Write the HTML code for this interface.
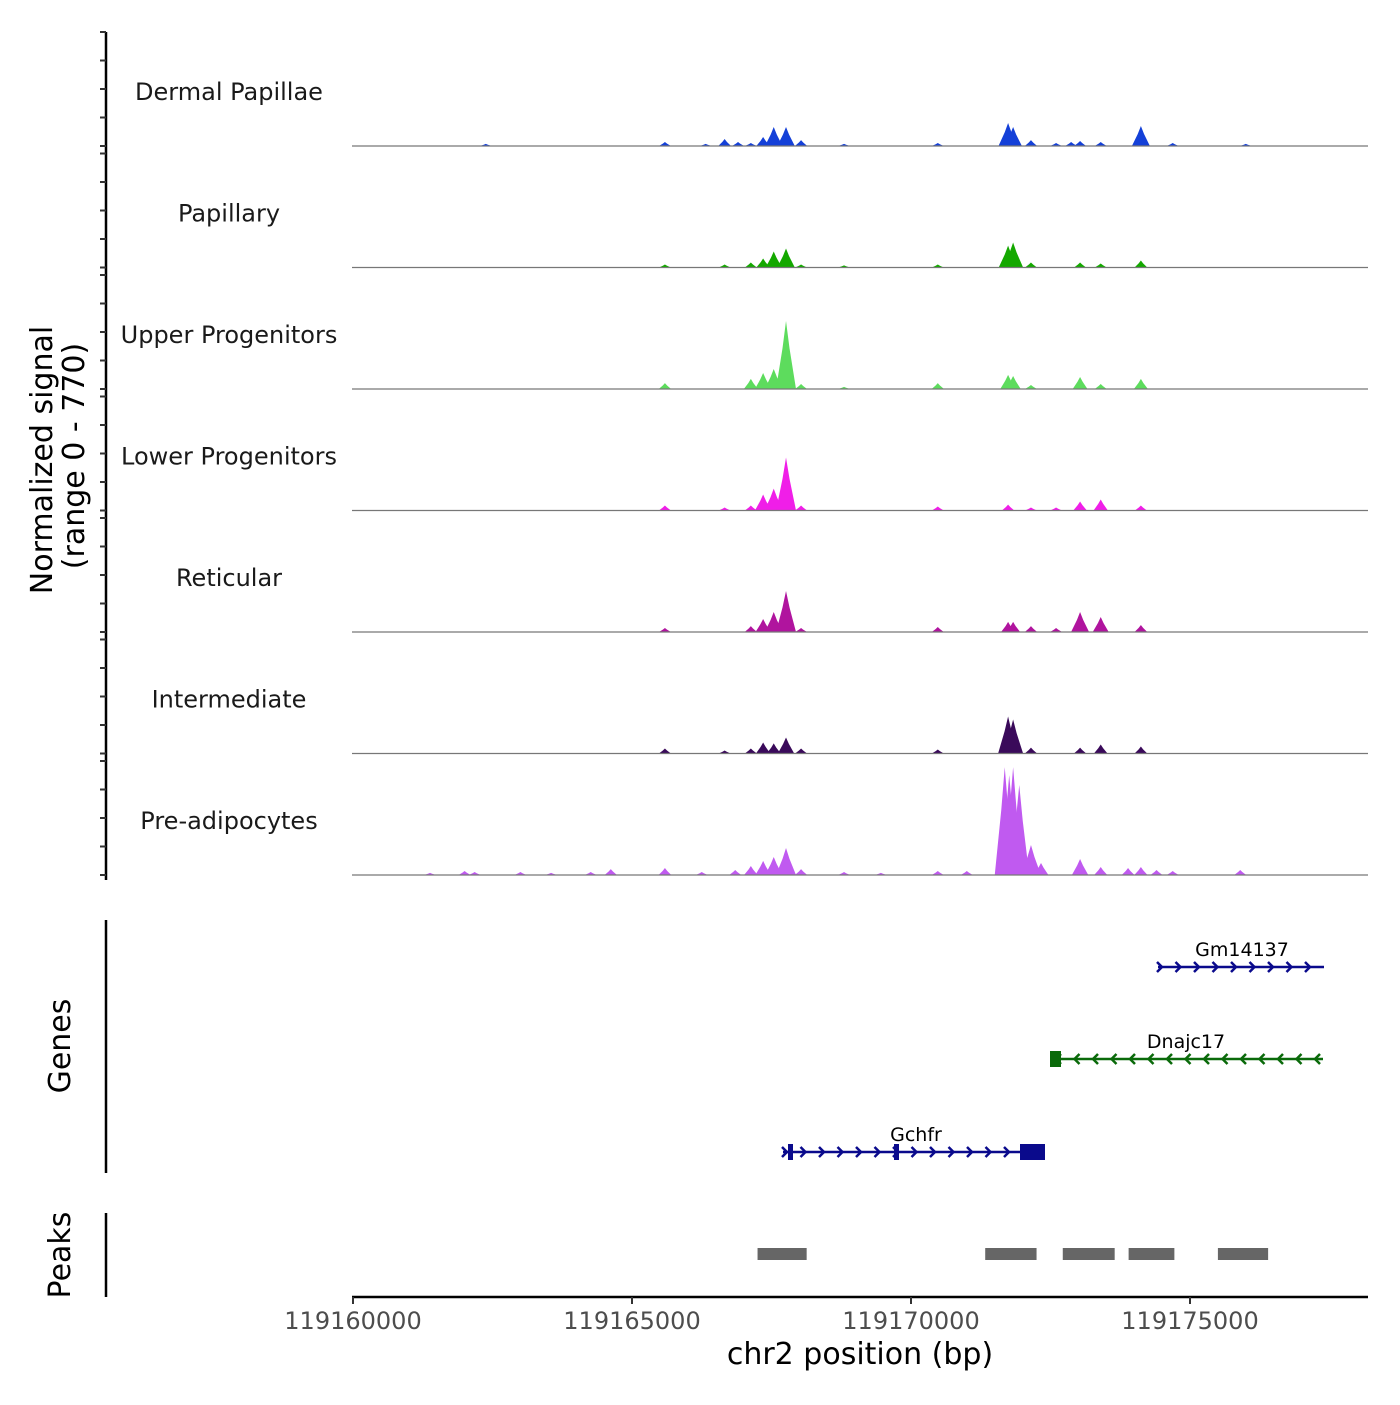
<!DOCTYPE html>
<html><head><meta charset="utf-8"><style>
body{margin:0;background:#fff}
svg text{font-family:"DejaVu Sans","Liberation Sans",sans-serif}
</style></head><body>
<svg id="c" width="1400" height="1400" xmlns="http://www.w3.org/2000/svg"></svg>
<script>
const trackNames=["Dermal Papillae","Papillary","Upper Progenitors","Lower Progenitors","Reticular","Intermediate","Pre-adipocytes"];
const trackColors=["#1440d8","#14a800","#5ddc5d","#f01ee8","#b0149e","#3a0a5a","#c05af0"];
// peak centres (bp offsets from 119160000) and heights (signal units) per track
const dpPos=[2380,5590,6320,6660,6900,7130,7350,7540,7760,8030,8800,10480,11740,11830,12150,12600,12870,13030,13400,14120,14690,16000];
const dpVal=[14,27,14,47,27,20,61,128,128,40,14,20,155,128,40,20,27,34,27,135,20,14];
const papPos=[5590,6660,7130,7350,7540,7760,8030,8800,10480,11740,11830,12150,13030,13400,14120];
const papVal=[20,20,34,61,108,128,20,14,20,148,169,34,34,27,47];
const upPos=[5590,7130,7350,7540,7760,8030,8800,10480,11740,11830,12150,13030,13400,14120];
const upVal=[40,68,108,135,459,34,14,40,95,88,27,81,34,68];
const lpPos=[5590,6660,7130,7350,7540,7760,8030,10480,11740,12150,12600,13030,13400,14120];
const lpVal=[34,20,34,108,148,358,34,27,40,20,20,61,74,34];
const retPos=[5590,7130,7350,7540,7760,8030,10480,11740,11830,12150,12600,13030,13400,14120];
const retVal=[27,40,88,135,277,27,34,68,68,40,27,135,101,47];
const intPos=[5590,6660,7130,7350,7540,7760,8030,10480,11740,11830,12150,13030,13400,14120];
const intVal=[34,20,34,74,68,108,34,27,250,230,40,40,61,47];
const prePos=[1380,2000,2180,3000,3550,4260,4620,5590,6250,6850,7130,7350,7540,7760,8030,8800,9460,10480,11000,11680,11760,11830,11940,12150,12330,13030,13400,13890,14120,14400,14690,15900];
const preVal=[14,27,20,20,14,20,40,47,20,34,61,95,122,182,40,20,14,27,27,729,675,729,608,203,81,108,54,47,54,34,27,34];
const seriesPos=[dpPos,papPos,upPos,lpPos,retPos,intPos,prePos];
const seriesVal=[dpVal,papVal,upVal,lpVal,retVal,intVal,preVal];
const xTicks=[119160000,119165000,119170000,119175000];
const peakStarts=[7250,11330,12720,13900,15500];
const peakEnds=[8130,12250,13650,14720,16400];

const NS="http://www.w3.org/2000/svg",svg=document.getElementById('c');
const X0=119160000,XL=353,PXBP=837/15000;
const x=bp=>XL+(bp-X0)*PXBP;
const xo=o=>XL+o*PXBP;
const YMAX=770,TH=114;
function el(t,a,p){const e=document.createElementNS(NS,t);for(const k in a)e.setAttribute(k,a[k]);(p||svg).appendChild(e);return e;}
function txt(s,a,p){const e=el('text',a,p);e.textContent=s;return e;}
const base=k=>146+121.5*k;

const ax=el('line',{x1:106,y1:32,x2:106,y2:880,stroke:'#000','stroke-width':2.5});

for(let k=0;k<7;k++){
  for(let i=0;i<5;i++){const yy=base(k)-i*28.5;
    const t=el('line',{x1:100,y1:yy,x2:106,y2:yy,stroke:'#333','stroke-width':2});
    }
}
for(let k=0;k<7;k++){
  const b=base(k);
  const g=el('g',{});
  const lab=txt(trackNames[k],{x:229,y:b-46,'text-anchor':'middle','font-size':24,fill:'#1a1a1a'});
  
  const P=seriesPos[k],V=seriesVal[k];
  for(let i=0;i<P.length;i++){
    const h=V[i]/YMAX*TH,c=xo(P[i]),w=Math.max(6,Math.min(10,h*0.2+5));
    const p=el('polygon',{points:`${c-w},${b} ${c-w*0.35},${b-h*0.6} ${c},${b-h} ${c+w*0.35},${b-h*0.6} ${c+w},${b}`,fill:trackColors[k]},g);
    
  }
  const bl=el('line',{x1:352,y1:b,x2:1368,y2:b,stroke:'#777','stroke-width':1.2},g);
  
}
let t=txt('Normalized signal',{transform:'translate(52,460) rotate(-90)','text-anchor':'middle','font-size':30,fill:'#000'});

t=txt('(range 0 - 770)',{transform:'translate(84,456) rotate(-90)','text-anchor':'middle','font-size':30,fill:'#000'});


el('line',{x1:106,y1:920,x2:106,y2:1173,stroke:'#000','stroke-width':2.5});
t=txt('Genes',{transform:'translate(70,1046) rotate(-90)','text-anchor':'middle','font-size':30});

function gene(name,x1,x2,y,col,dir,exons,lx){
  const g=el('g',{});
  el('line',{x1,y1:y,x2,y2:y,stroke:col,'stroke-width':2.5},g);
  for(let a=x1+4;a<x2;a+=18.5){const d=dir*5;el('polyline',{points:`${a-d},${y-5} ${a},${y} ${a-d},${y+5}`,fill:'none',stroke:col,'stroke-width':2.5},g);}
  exons.forEach(e=>el('rect',{x:e[0],y:y-e[2]/2,width:e[1]-e[0],height:e[2],fill:col},g));
  txt(name,{x:lx,y:y-11,'text-anchor':'middle','font-size':19,fill:'#000'},g);
}
gene('Gm14137',1158,1324,967,'#0a0a8c',1,[],1242);
gene('Dnajc17',1052,1323,1059,'#0a6a0a',-1,[[1050,1061,16]],1186);
gene('Gchfr',783,1045,1152,'#0a0a8c',1,[[788,793,16],[894,899,16],[1020,1045,16]],916);

el('line',{x1:106,y1:1213,x2:106,y2:1297,stroke:'#000','stroke-width':2.5});
t=txt('Peaks',{transform:'translate(70,1255) rotate(-90)','text-anchor':'middle','font-size':30});

for(let i=0;i<peakStarts.length;i++){
  const r=el('rect',{x:xo(peakStarts[i]),y:1248,width:xo(peakEnds[i])-xo(peakStarts[i]),height:12,fill:'#666'});
  
}
const xa=el('line',{x1:352,y1:1297,x2:1368,y2:1297,stroke:'#000','stroke-width':2.5});

xTicks.forEach(v=>{
  el('line',{x1:x(v),y1:1297,x2:x(v),y2:1304,stroke:'#333','stroke-width':2});
  const l=txt(String(v),{x:x(v),y:1329,'text-anchor':'middle','font-size':24,fill:'#4d4d4d'});
  
});
t=txt('chr2 position (bp)',{x:860,y:1364,'text-anchor':'middle','font-size':30});

</script>
</body></html>
